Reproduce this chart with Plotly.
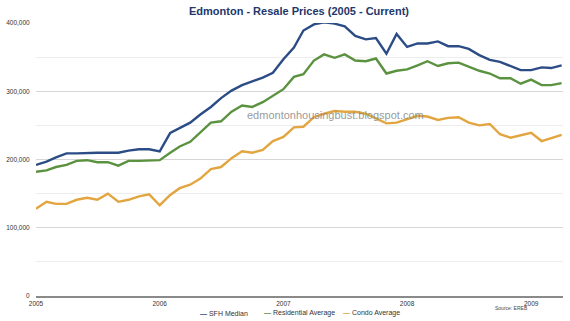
import plotly.graph_objects as go
import pandas as pd

months = pd.date_range("2005-01-01", periods=52, freq="MS")

sfh_median = [192, 197, 203, 209, 209, 210, 210, 210, 210, 213, 215, 215,
              212, 239, 246, 254, 266, 277, 290, 301, 309, 314, 320, 327,
              347, 364, 389, 398, 401, 399, 395, 381, 376, 378, 355, 384,
              365, 370, 370, 373, 366, 366, 362, 353, 346, 343, 337, 331,
              331, 335, 334, 338]
residential_avg = [182, 184, 189, 192, 198, 199, 196, 196, 191, 198, 198, 198,
                   199, 210, 219, 226, 240, 254, 256, 270, 279, 277, 284, 294,
                   303, 321, 325, 345, 354, 349, 354, 345, 344, 348, 326, 330,
                   332, 338, 344, 337, 341, 342, 336, 330, 326, 319, 319, 311,
                   317, 309, 309, 312]
condo_avg = [128, 138, 135, 135, 141, 144, 141, 150, 138, 141, 146, 149,
             133, 148, 158, 163, 172, 186, 189, 202, 212, 210, 214, 227,
             233, 247, 248, 262, 267, 271, 270, 270, 267, 260, 253, 254,
             259, 264, 263, 258, 261, 262, 254, 250, 252, 237, 232, 236,
             239, 227, 231, 236]

series_names = ["SFH Median", "Residential Average", "Condo Average"]
series_colors = ["#2c4c85", "#5b9240", "#e3a540"]
series_values = [sfh_median, residential_avg, condo_avg]

fig = go.Figure()
for name, color, vals in zip(series_names, series_colors, series_values):
    fig.add_trace(go.Scatter(
        x=months, y=[v * 1000 for v in vals], mode="lines", name=name,
        line=dict(color=color, width=2.4), showlegend=False))

fig.update_layout(
    width=570, height=321,
    margin=dict(l=36, r=7, t=23, b=25),
    paper_bgcolor="white", plot_bgcolor="white",
    font=dict(family="Liberation Sans, Arial, sans-serif", color="#333"),
    title=dict(text="<b>Edmonton - Resale Prices (2005 - Current)</b>",
               x=299 / 570, xanchor="center", y=1 - 11 / 321, yanchor="middle",
               font=dict(size=11, color="#22376b")),
    xaxis=dict(type="date", range=["2005-01-01", "2009-04-05"],
               dtick="M12", tickformat="%Y", tick0="2005-01-01",
               showgrid=False, showline=True, linecolor="#8a8a8a", linewidth=1.5,
               ticks="", tickfont=dict(size=6.5, color="#333"), zeroline=False),
    yaxis=dict(range=[0, 400000], dtick=100000, tickformat=",d",
               showgrid=True, gridcolor="#d6d6d6", gridwidth=1.3,
               minor=dict(dtick=50000, showgrid=True, gridcolor="#ededed", gridwidth=1.3),
               ticks="outside", ticklen=4, tickcolor="rgba(0,0,0,0)",
               tickfont=dict(size=6.5, color="#333"), zeroline=False, showline=False),
)

def px_x(p):
    return (p - 36) / 527

def px_y(p):
    return (296 - p) / 273

# watermark
fig.add_annotation(text="edmontonhousingbust.blogspot.com", xref="paper", yref="paper",
                   x=px_x(335), y=px_y(115), showarrow=False,
                   font=dict(size=11, color="rgba(140,140,140,0.9)"))

# legend
legend_x = [198, 262, 341]
for name, color, lx in zip(series_names, series_colors, legend_x):
    fig.add_annotation(text=f"<span style='color:{color}'><b>—</b></span> {name}",
                       xref="paper", yref="paper", x=px_x(lx), y=px_y(313),
                       xanchor="left", yanchor="middle", showarrow=False,
                       font=dict(size=7, color="#333"))

fig.add_annotation(text="Source: EREB", xref="paper", yref="paper",
                   x=px_x(493), y=px_y(308), xanchor="left", yanchor="middle",
                   showarrow=False, font=dict(size=5, color="#444"))

fig.write_html("out.html")
